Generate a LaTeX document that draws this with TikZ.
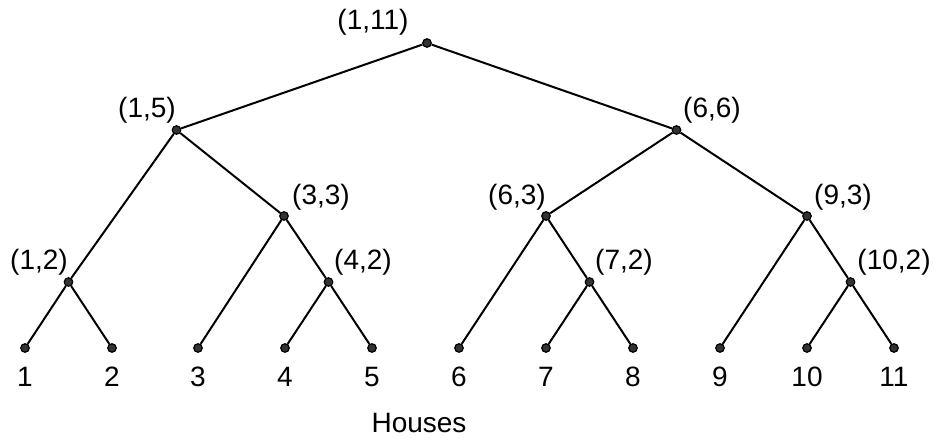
\documentclass[tikz,border=0pt]{standalone}
\usepackage{fontspec}
\setmainfont{Liberation Sans}
\begin{document}
\begin{tikzpicture}[x=1pt,y=-1pt,
  dot/.style={circle,draw=black,fill=black!80,line width=1.2pt,inner sep=0pt,minimum size=8.5pt},
  lbl/.style={inner sep=0pt,font=\fontsize{28}{33}\selectfont},
  edge/.style={line width=2pt,black}]
\useasboundingbox (0,0) rectangle (934,438);
% internal nodes
\node[dot] (r) at (427,43) {};
\node[dot] (a) at (176.5,130) {};
\node[dot] (b) at (676.5,130) {};
\node[dot] (c) at (284,216) {};
\node[dot] (d) at (546,216) {};
\node[dot] (e) at (807,216) {};
\node[dot] (f) at (68.5,282) {};
\node[dot] (g) at (328.5,282) {};
\node[dot] (h) at (589.5,282) {};
\node[dot] (i) at (850.5,282) {};
% leaves
\foreach \k/\x in {1/25,2/112,3/198,4/285,5/372,6/459,7/546,8/633,9/720,10/807,11/894}{
  \node[dot] (l\k) at (\x,348) {};
  \node[lbl] (t\k) at (\x,377) {\k};
}
% labels
\node[lbl] (lr) at (373,22) {(1,11)};
\node[lbl] (la) at (147,110) {(1,5)};
\node[lbl] (lb) at (712,110) {(6,6)};
\node[lbl] (lc) at (321,197) {(3,3)};
\node[lbl] (ld) at (517,197) {(6,3)};
\node[lbl] (le) at (843,197) {(9,3)};
\node[lbl] (lf) at (39,262) {(1,2)};
\node[lbl] (lg) at (363,262) {(4,2)};
\node[lbl] (lh) at (624,262) {(7,2)};
\node[lbl] (li) at (894,262) {(10,2)};
\node[lbl] (houses) at (419,423) {Houses};
% edges
\draw[edge] (r) -- (a); \draw[edge] (r) -- (b);
\draw[edge] (a) -- (f); \draw[edge] (a) -- (c);
\draw[edge] (c) -- (l3); \draw[edge] (c) -- (g);
\draw[edge] (f) -- (l1); \draw[edge] (f) -- (l2);
\draw[edge] (g) -- (l4); \draw[edge] (g) -- (l5);
\draw[edge] (b) -- (d); \draw[edge] (b) -- (e);
\draw[edge] (d) -- (l6); \draw[edge] (d) -- (h);
\draw[edge] (h) -- (l7); \draw[edge] (h) -- (l8);
\draw[edge] (e) -- (l9); \draw[edge] (e) -- (i);
\draw[edge] (i) -- (l10); \draw[edge] (i) -- (l11);
\end{tikzpicture}
\end{document}
